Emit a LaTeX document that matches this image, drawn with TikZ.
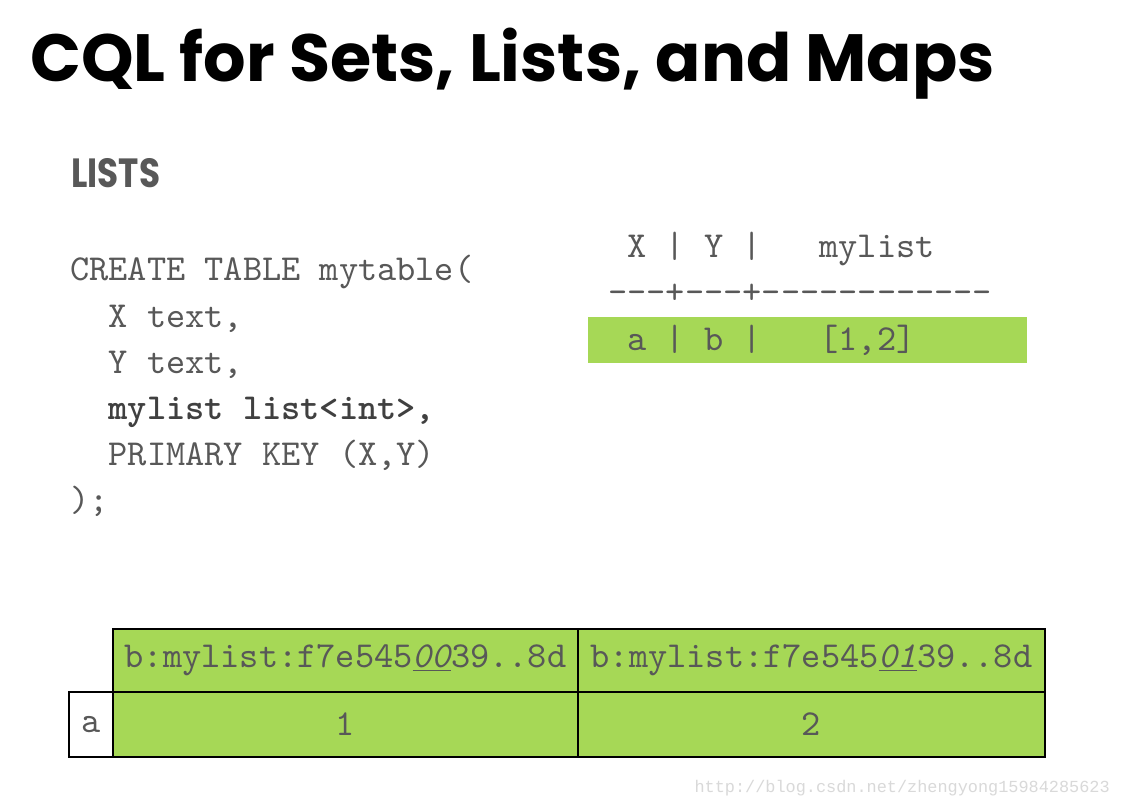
\documentclass[tikz,border=0pt]{standalone}
\usepackage{fontspec}
\setmainfont{Liberation Sans}
\setmonofont{lmmono10-regular.otf}[BoldFont=lmmonolt10-bold.otf, ItalicFont=lmmono10-italic.otf]
\newfontfamily\headfont{Poppins}
\newfontfamily\markfont{Liberation Mono}
\usetikzlibrary{positioning}
\definecolor{CodeGray}{HTML}{585858}
\definecolor{CellGreen}{HTML}{A6D856}

\begin{document}
\begin{tikzpicture}[
    x=0.025cm, y=-0.025cm,
    code/.style={anchor=base west, inner sep=0pt, font=\fontsize{26}{30}\selectfont\ttfamily, text=CodeGray},
    cell/.style={rectangle, draw=black, line width=1.4pt, fill=CellGreen, inner sep=0pt,
                 font=\fontsize{26}{30}\selectfont\ttfamily, text=CodeGray},
    heading/.style={anchor=base west, inner sep=0pt, font=\headfont\bfseries}
]
    \useasboundingbox[fill=white] (0,0) rectangle (1122,806);
    % title
    \node[heading, text=black, font=\headfont\bfseries\fontsize{47.5}{54}\selectfont] (title) at (30,82) {CQL for Sets, Lists, and Maps};
    \node[heading, text=CodeGray, font=\headfont\bfseries\fontsize{29}{34}\selectfont] (lists) at (71,188) {\scalebox{0.84}[1]{LISTS}};

    % table definition
    \node[code] (c1) at (70,281) {CREATE TABLE mytable(};
    \node[code] (c2) at (70,327) {~~X text,};
    \node[code] (c3) at (70,373) {~~Y text,};
    \node[code, text=black!75] (c4) at (70,419) {~~\bfseries mylist list<int>,};
    \node[code] (c5) at (70,465) {~~PRIMARY KEY (X,Y)};
    \node[code] (c6) at (70,511) {);};

    % query result
    \node[rectangle, fill=CellGreen, minimum width=439*0.025cm, minimum height=46*0.025cm, inner sep=0pt] (bar) at (807.5,340) {};
    \node[code] (r1) at (608,258) {~X~|~Y~|~~~mylist};
    \node[code] (r2) at (608,304) {---+---+------------};
    \node[code] (r3) at (608,351) {~a~|~b~|~~~[1,2]};

    % storage row
    \node[cell, minimum width=465*0.025cm, minimum height=63*0.025cm] (h1) at (345.5,660.5) {b:mylist:f7e545\underline{\itshape 00}39..8d};
    \node[cell, minimum width=467*0.025cm, minimum height=63*0.025cm] (h2) at (811.5,660.5) {b:mylist:f7e545\underline{\itshape 01}39..8d};
    \node[cell, minimum width=465*0.025cm, minimum height=65*0.025cm] (v1) at (345.5,724.5) {1};
    \node[cell, minimum width=467*0.025cm, minimum height=65*0.025cm] (v2) at (811.5,724.5) {2};
    \node[cell, fill=white, minimum width=44*0.025cm, minimum height=65*0.025cm] (k) at (91,724.5) {a};

    \node[anchor=base east, inner sep=0pt, text=black!15, font=\fontsize{12}{14}\selectfont\markfont] (mark) at (1110,792) {http://blog.csdn.net/zhengyong15984285623};
\end{tikzpicture}
\end{document}
